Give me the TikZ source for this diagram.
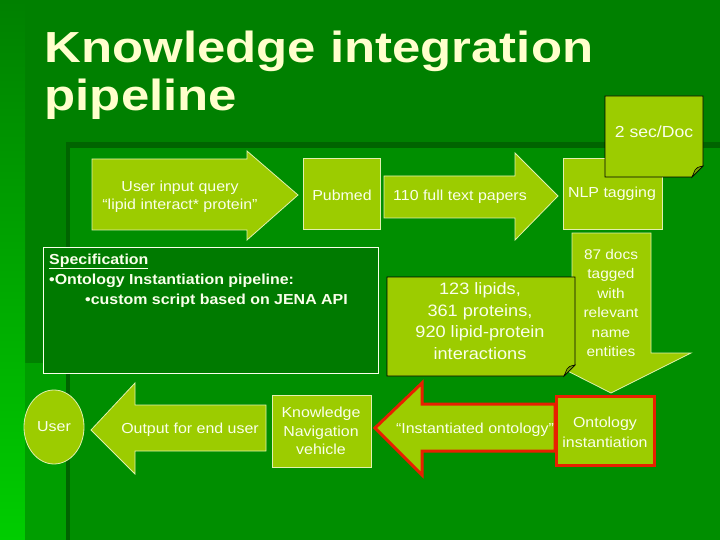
\documentclass[tikz,border=0pt]{standalone}
\usepackage{fontspec}
\setmainfont[FakeStretch=1.1]{Liberation Sans}
\newfontfamily\titlefont[FakeStretch=1.17]{Liberation Sans}
\usetikzlibrary{shapes.geometric}
\definecolor{bgdark}{RGB}{0,128,0}
\definecolor{bglight}{RGB}{0,205,0}
\definecolor{panel}{RGB}{0,142,0}
\definecolor{band}{RGB}{0,100,0}
\definecolor{lowstrip}{RGB}{0,158,0}
\definecolor{lime}{RGB}{156,204,0}
\definecolor{limeedge}{RGB}{225,240,175}
\definecolor{folded}{RGB}{120,165,0}
\definecolor{cream}{RGB}{255,255,204}
\definecolor{txt}{RGB}{250,255,235}
\definecolor{specfill}{RGB}{0,122,0}
\definecolor{redb}{RGB}{232,32,0}
\tikzset{
  limeshape/.style={fill=lime, draw=limeedge, line width=0.8pt},
  redshape/.style={fill=lime, draw=redb, line width=3pt, line join=miter},
  notebox/.style={fill=lime, draw=black, line width=0.8pt},
  lbl/.style={text=txt, align=center, font=\fontsize{14.5}{18.5}\selectfont, inner sep=0pt},
  spectxt/.style={text=txt, anchor=base west, font=\fontsize{14.5}{18}\selectfont\bfseries, inner sep=0pt},
  titletxt/.style={anchor=base west, text=cream, font=\titlefont\bfseries\fontsize{43.5}{50}\selectfont, inner sep=0pt}
}
\begin{document}
\begin{tikzpicture}[x=1pt,y=-1pt]
\useasboundingbox (0,0) rectangle (720,540);
% background
\fill[bgdark] (0,0) rectangle (720,540);
\shade[top color=bgdark, bottom color=bglight] (0,0) rectangle (25,540);
\fill[panel] (66,143) rectangle (720,540);
\fill[lowstrip] (25,363) rectangle (66,540);
\fill[band] (66,142) rectangle (720,148);
\fill[band] (66,142) rectangle (70,540);

% title
\node[titletxt] (title1) at (44.5,63) {Knowledge integration};
\node[titletxt] (title2) at (44.5,111) {pipeline};

% top row
\draw[limeshape] (92,159) -- (247,159) -- (247,151) -- (298,195) -- (247,240) -- (247,230) -- (92,230) -- cycle;
\node[lbl] (query) at (180,197) {User input query\\“lipid interact* protein”};
\draw[limeshape] (303,158) rectangle (380,229);
\node[lbl] (pubmed) at (342,195) {Pubmed};
\draw[limeshape] (384,176) -- (515,176) -- (515,153) -- (558,196) -- (515,240) -- (515,218) -- (384,218) -- cycle;
\node[lbl] (papers) at (460,197) {110 full text papers};
\draw[limeshape] (563,158) rectangle (662,229);
\node[lbl] (nlp) at (612,194) {NLP tagging};

% note 2 sec/Doc
\draw[notebox] (605,96) -- (703,96) -- (703,166) -- (692,177) -- (605,177) -- cycle;
\draw[fill=folded, draw=black, line width=0.6pt] (703,166) .. controls (698,167) and (696,168) .. (695,170) -- (692,177) -- cycle;
\node[lbl, font=\fontsize{16}{19}\selectfont] (secdoc) at (654,132) {2 sec/Doc};

% specification box
\draw[fill=specfill, draw=txt, line width=0.8pt] (43,247) rectangle (378,373);
\node[spectxt] (spec1) at (49,264) {\underline{Specification}};
\node[spectxt] (spec2) at (49,284) {•Ontology Instantiation pipeline:};
\node[spectxt] (spec3) at (85,304) {•custom script based on JENA API};

% down arrow
\draw[limeshape] (572,233) -- (651,233) -- (651,353) -- (691,353) -- (611,393) -- (532,353) -- (572,353) -- cycle;
\node[lbl, font=\fontsize{14}{19.5}\selectfont] (docs) at (611,303) {87 docs\\tagged\\with\\relevant\\name\\entities};

% note 123 lipids
\draw[notebox] (387,277) -- (575,277) -- (575,365) -- (564,376) -- (387,376) -- cycle;
\draw[fill=folded, draw=black, line width=0.6pt] (575,365) .. controls (570,366) and (568,367) .. (567,369) -- (564,376) -- cycle;
\node[lbl, font=\fontsize{16.5}{21.5}\selectfont] (lipids) at (480,321) {123 lipids,\\361 proteins,\\920 lipid-protein\\interactions};

% bottom row
\draw[redshape] (375,428) -- (422,383) -- (422,404) -- (555,404) -- (555,451) -- (422,451) -- (422,475) -- cycle;
\node[lbl] (inst) at (475,430) {“Instantiated ontology”};
\draw[redshape] (556.5,396.5) rectangle (654.5,465.5);
\node[lbl, font=\fontsize{14.5}{20}\selectfont] (onto) at (605,432) {Ontology\\instantiation};

\draw[limeshape] (272,395) rectangle (371,467);
\node[lbl] (knv) at (321,431) {Knowledge\\Navigation\\vehicle};

\draw[limeshape] (91,430) -- (135,383) -- (135,405) -- (266,405) -- (266,451) -- (135,451) -- (135,474) -- cycle;
\node[lbl] (output) at (190,430) {Output for end user};

\draw[limeshape] (54,427) ellipse [x radius=30, y radius=37];
\node[lbl] (user) at (54,427) {User};
\end{tikzpicture}
\end{document}
